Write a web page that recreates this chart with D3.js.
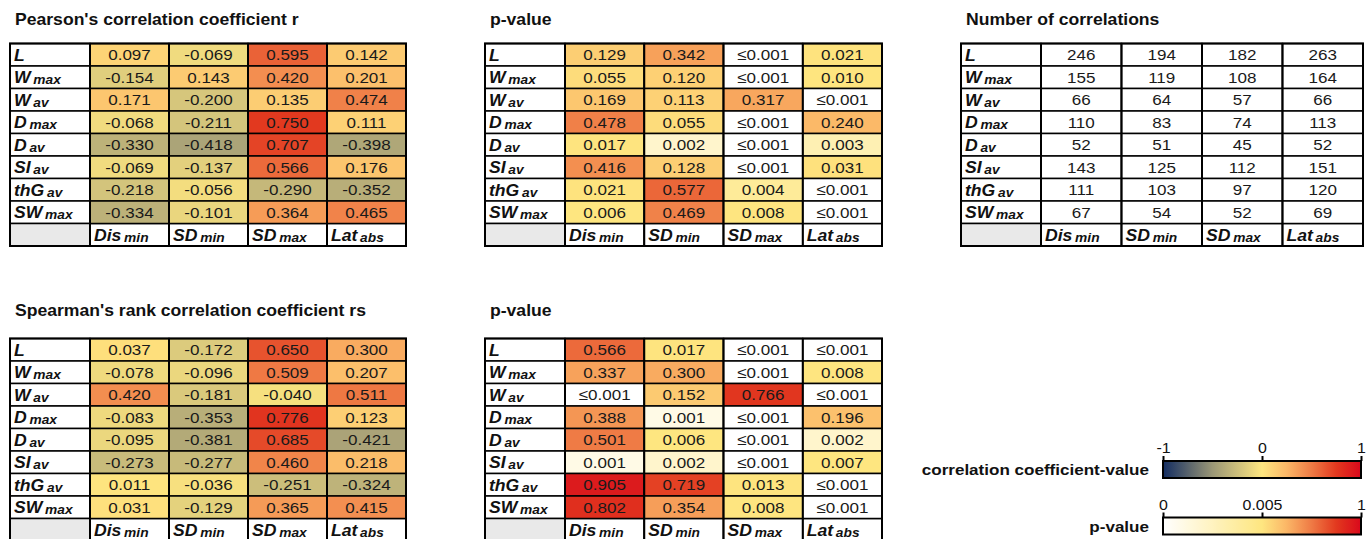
<!DOCTYPE html>
<meta charset="utf-8">
<head>
    <script src="https://d3js.org/d3.v7.min.js"></script>
    <style>
        body { margin: 0; background: #fff; }
        svg { font-family: "Liberation Sans", Arial, sans-serif; display: block; }
        .title { font-weight: bold; fill: #111; }
        .lab { font-weight: bold; font-style: italic; fill: #111; }
        .axis line { stroke: #000; stroke-width: 2; }
    </style>
</head>
<body>
<div id="chart"></div>
<script>
    // row / column names: [main, subscript]
    var rowNames = [["L", ""], ["W", "max"], ["W", "av"], ["D", "max"], ["D", "av"], ["SI", "av"], ["thG", "av"], ["SW", "max"]];
    var colNames = [["Dis", "min"], ["SD", "min"], ["SD", "max"], ["Lat", "abs"]];

    var pearsonR = [
        [0.097, -0.069, 0.595, 0.142],
        [-0.154, 0.143, 0.420, 0.201],
        [0.171, -0.200, 0.135, 0.474],
        [-0.068, -0.211, 0.750, 0.111],
        [-0.330, -0.418, 0.707, -0.398],
        [-0.069, -0.137, 0.566, 0.176],
        [-0.218, -0.056, -0.290, -0.352],
        [-0.334, -0.101, 0.364, 0.465]
    ];
    // null = "≤0.001"
    var pearsonP = [
        [0.129, 0.342, null, 0.021],
        [0.055, 0.120, null, 0.010],
        [0.169, 0.113, 0.317, null],
        [0.478, 0.055, null, 0.240],
        [0.017, 0.002, null, 0.003],
        [0.416, 0.128, null, 0.031],
        [0.021, 0.577, 0.004, null],
        [0.006, 0.469, 0.008, null]
    ];
    var corrCounts = [
        [246, 194, 182, 263],
        [155, 119, 108, 164],
        [66, 64, 57, 66],
        [110, 83, 74, 113],
        [52, 51, 45, 52],
        [143, 125, 112, 151],
        [111, 103, 97, 120],
        [67, 54, 52, 69]
    ];
    var spearmanR = [
        [0.037, -0.172, 0.650, 0.300],
        [-0.078, -0.096, 0.509, 0.207],
        [0.420, -0.181, -0.040, 0.511],
        [-0.083, -0.353, 0.776, 0.123],
        [-0.095, -0.381, 0.685, -0.421],
        [-0.273, -0.277, 0.460, 0.218],
        [0.011, -0.036, -0.251, -0.324],
        [0.031, -0.129, 0.365, 0.415]
    ];
    var spearmanP = [
        [0.566, 0.017, null, null],
        [0.337, 0.300, null, 0.008],
        [null, 0.152, 0.766, null],
        [0.388, 0.001, null, 0.196],
        [0.501, 0.006, null, 0.002],
        [0.001, 0.002, null, 0.007],
        [0.905, 0.719, 0.013, null],
        [0.802, 0.354, 0.008, null]
    ];

    var corrTicks = [-1, 0, 1];
    var pTicks = [0, 0.005, 1];

    var corrColor = d3.scaleLinear()
        .domain([-1, -0.5, 0, 0.25, 0.5, 0.75, 1])
        .range(["#132d62", "#9b9776", "#fee680", "#fbb767", "#ef7b45", "#e2391f", "#d9081b"]);
    var pColor = d3.scaleLinear()
        .domain([0, 0.005, 0.25, 0.5, 0.75, 1])
        .range(["#ffffff", "#fee680", "#fbb767", "#ef7b45", "#e2391f", "#d9081b"]);

    var width = 1370, height = 539;
    var svg = d3.select("#chart").append("svg")
        .attr("width", width)
        .attr("height", height);

    var rowH = 22.5;
    var stretch = 1.1; // the original type is a little wide

    function at(x, y) {
        return "translate(" + x + "," + y + ") scale(" + stretch + ",1)";
    }

    function addLabel(sel, name, big, small) {
        sel.append("tspan").style("font-size", big + "px").text(name[0]);
        if (name[1]) sel.append("tspan").attr("dx", 2.5).attr("dy", 1).style("font-size", small + "px").text(name[1]);
    }

    function drawTable(x0, y0, x1, titleY, title, data, fill, fmt) {
        var g = svg.append("g");
        g.append("text").attr("class", "title")
            .attr("transform", at(x0 + 5, titleY))
            .style("font-size", "16px")
            .text(title);

        var x = d3.scaleBand().domain(d3.range(4)).range([x0 + 80, x1]);
        var y = d3.scaleBand().domain(d3.range(9)).range([y0, y0 + rowH * 9]);

        var cells = [];
        data.forEach(function (row, i) {
            row.forEach(function (v, j) { cells.push({r: i, c: j, v: v}); });
        });

        // row label cells
        g.selectAll(".rowcell").data(rowNames).enter().append("rect")
            .attr("x", x0).attr("y", function (d, i) { return y(i); })
            .attr("width", x(0) - x0).attr("height", y.bandwidth())
            .attr("fill", "#fff").attr("stroke", "#000").attr("stroke-width", 1.5);
        // corner
        g.append("rect")
            .attr("x", x0).attr("y", y(8))
            .attr("width", x(0) - x0).attr("height", y.bandwidth())
            .attr("fill", "#e9e9e9").attr("stroke", "#000").attr("stroke-width", 1.5);
        // column header cells
        g.selectAll(".colcell").data(colNames).enter().append("rect")
            .attr("x", function (d, j) { return x(j); }).attr("y", y(8))
            .attr("width", x.bandwidth()).attr("height", y.bandwidth())
            .attr("fill", "#fff").attr("stroke", "#000").attr("stroke-width", 1.5);
        // value cells
        g.selectAll(".vcell").data(cells).enter().append("rect")
            .attr("x", function (d) { return x(d.c); })
            .attr("y", function (d) { return y(d.r); })
            .attr("width", x.bandwidth()).attr("height", y.bandwidth())
            .attr("fill", function (d) { return fill(d.v); })
            .attr("stroke", "#000").attr("stroke-width", 1.5);

        g.selectAll(".vtext").data(cells).enter().append("text")
            .attr("transform", function (d) { return at(x(d.c) + x.bandwidth() / 2, y(d.r) + y.bandwidth() / 2 + 5.5); })
            .style("font-size", "15.5px")
            .style("text-anchor", "middle")
            .attr("fill", "#1a1a1a")
            .text(function (d) { return fmt(d.v); });

        g.selectAll(".rlab").data(rowNames).enter().append("text")
            .attr("class", "lab")
            .attr("transform", function (d, i) { return at(x0 + 4, y(i) + y.bandwidth() / 2 + 6); })
            .each(function (d) { addLabel(d3.select(this), d, 16, 12.5); });

        g.selectAll(".clab").data(colNames).enter().append("text")
            .attr("class", "lab")
            .attr("transform", function (d, j) { return at(x(j) + 4, y(8) + y.bandwidth() / 2 + 6); })
            .each(function (d) { addLabel(d3.select(this), d, 16, 12.5); });

        // vertical separators are heavier
        g.selectAll(".vsep").data(d3.range(4)).enter().append("line")
            .attr("x1", function (j) { return x(j); }).attr("x2", function (j) { return x(j); })
            .attr("y1", y0).attr("y2", y0 + rowH * 9)
            .attr("stroke", "#000").attr("stroke-width", 2);
        g.append("rect")
            .attr("x", x0).attr("y", y0)
            .attr("width", x1 - x0).attr("height", rowH * 9)
            .attr("fill", "none").attr("stroke", "#000").attr("stroke-width", 2);
    }

    var fmtR = function (v) { return v.toFixed(3); };
    var fmtP = function (v) { return v === null ? "≤0.001" : v.toFixed(3); };
    var fillR = function (v) { return corrColor(v); };
    var fillP = function (v) { return v === null ? "#fff" : pColor(v); };

    drawTable(10, 43.5, 406, 25, "Pearson's correlation coefficient r", pearsonR, fillR, fmtR);
    drawTable(485, 43.5, 882, 25, "p-value", pearsonP, fillP, fmtP);
    drawTable(961, 43.5, 1363, 25, "Number of correlations", corrCounts, function () { return "#fff"; }, function (v) { return v; });
    drawTable(10, 338.5, 406, 316, "Spearman's rank correlation coefficient rs", spearmanR, fillR, fmtR);
    drawTable(485, 338.5, 882, 316, "p-value", spearmanP, fillP, fmtP);

    // colour bars
    function colorBar(id, scale, ticks, y0, label) {
        var bx0 = 1163, bx1 = 1361, bh = 17;
        var pos = d3.scaleLinear().domain(scale === corrColor ? [-1, 0, 1] : [0, 0.005, 1]).range([bx0, (bx0 + bx1) / 2, bx1]);
        var grad = svg.append("defs").append("linearGradient").attr("id", id);
        var n = 40;
        d3.range(n + 1).forEach(function (i) {
            var t = i / n;
            grad.append("stop").attr("offset", t)
                .attr("stop-color", scale(pos.invert(bx0 + t * (bx1 - bx0))));
        });
        svg.append("rect")
            .attr("x", bx0).attr("y", y0).attr("width", bx1 - bx0).attr("height", bh)
            .attr("fill", "url(#" + id + ")").attr("stroke", "#000").attr("stroke-width", 2);
        var ax = svg.append("g").attr("class", "axis")
            .attr("transform", "translate(0," + y0 + ")")
            .call(d3.axisTop(pos).tickValues(ticks).tickSize(5).tickPadding(3).tickFormat(function (d) { return String(d); }));
        ax.select(".domain").remove();
        ax.selectAll("text")
            .attr("fill", "#111")
            .attr("transform", "scale(" + stretch + ",1)")
            .style("font-size", "14.5px")
            .style("font-family", "'Liberation Sans', Arial, sans-serif");
        svg.append("text").attr("class", "title")
            .attr("transform", at(bx0 - 14, y0 + 14))
            .style("font-size", "15.5px")
            .style("text-anchor", "end")
            .text(label);
    }

    colorBar("gradR", corrColor, corrTicks, 461, "correlation coefficient-value");
    colorBar("gradP", pColor, pTicks, 517.5, "p-value");
</script>
</body>
